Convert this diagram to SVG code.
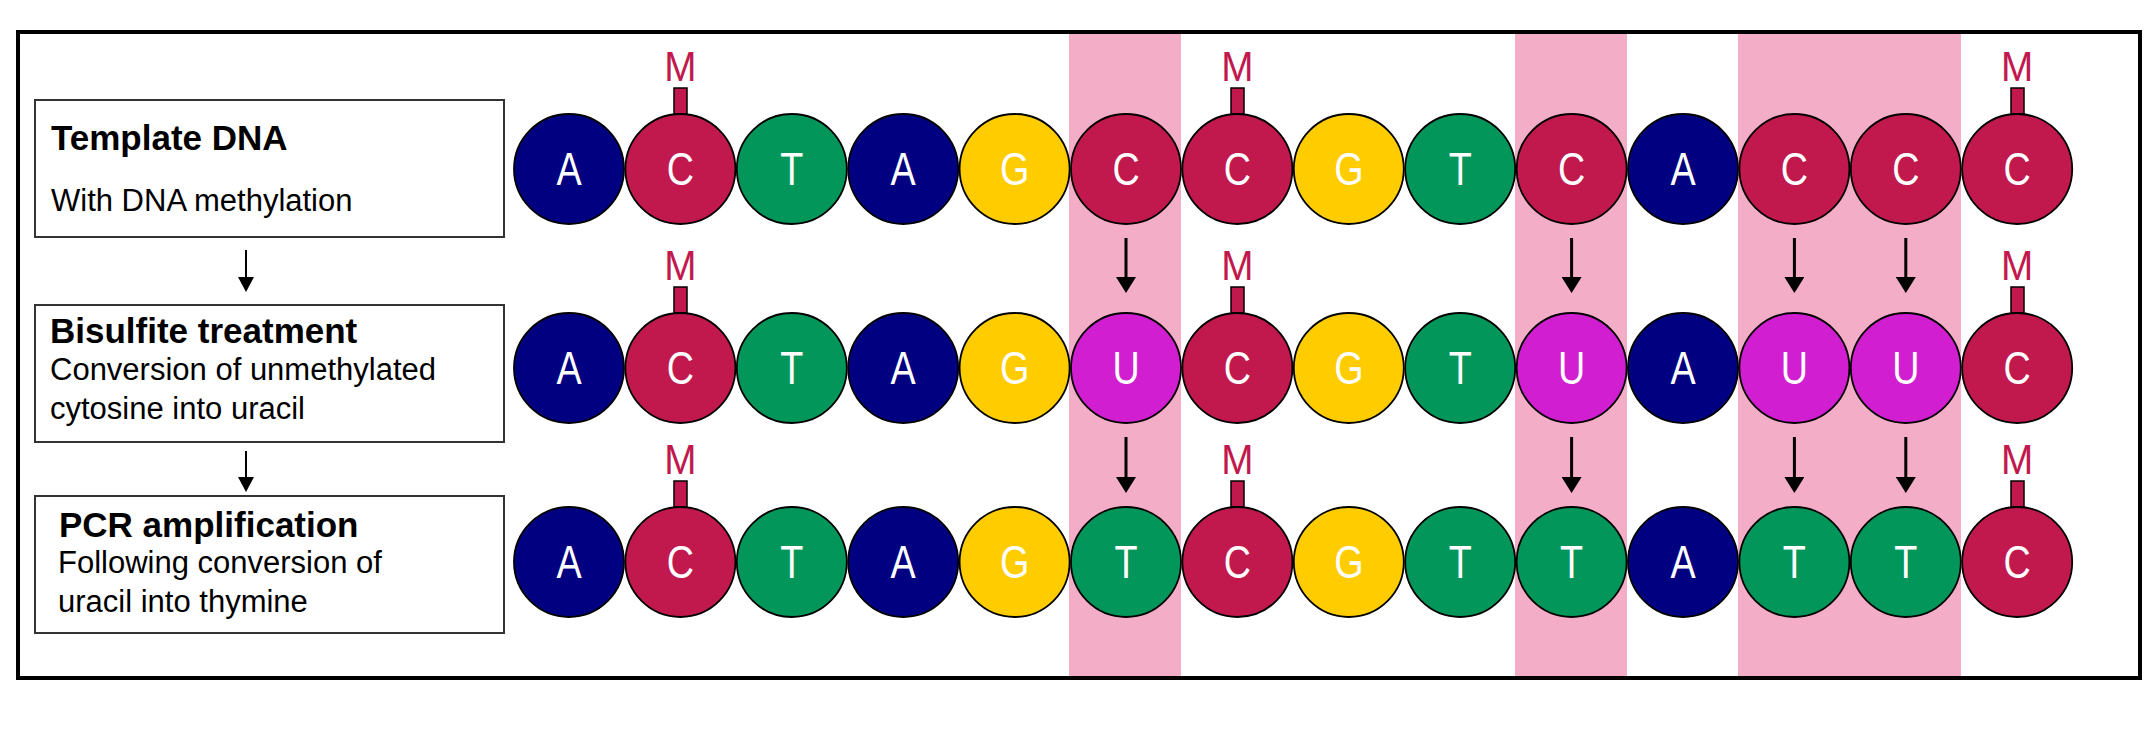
<svg xmlns="http://www.w3.org/2000/svg" width="2156" height="733" viewBox="0 0 2156 733">
<style>
.nuc{stroke:#000;stroke-width:1.8}
.A{fill:#000080}.C{fill:#C1194E}.T{fill:#03965A}.G{fill:#FFCC00}.U{fill:#D01ED0}
.lt{font-family:"Liberation Sans",Arial,sans-serif;font-size:46px;fill:#fff;text-anchor:middle;transform-box:fill-box;transform-origin:center;transform:scaleX(0.82)}
.m{font-family:"Liberation Sans",Arial,sans-serif;font-size:43px;fill:#C1194E;text-anchor:middle;transform-box:fill-box;transform-origin:center;transform:scaleX(0.9)}
.stick{fill:#C1194E;stroke:#000;stroke-width:1.5}
.box{fill:#fff;stroke:#333;stroke-width:2}
.h{font-family:"Liberation Sans",Arial,sans-serif;font-size:35px;font-weight:bold;fill:#000}
.s{font-family:"Liberation Sans",Arial,sans-serif;font-size:31px;fill:#000}
.band{fill:#F3ADC7}
.arr{stroke:#000;stroke-width:3;fill:none}
.arrs{stroke:#000;stroke-width:2;fill:none}
</style>
<defs>
<marker id="hd" markerUnits="userSpaceOnUse" markerWidth="16" markerHeight="20" refX="1" refY="10" orient="auto" viewBox="0 0 16 20"><path d="M0,0 L16,10 L0,20 Z" fill="#000"/></marker>
<marker id="hs" markerUnits="userSpaceOnUse" markerWidth="15" markerHeight="16" refX="1" refY="8" orient="auto" viewBox="0 0 15 16"><path d="M0,0 L15,8 L0,16 Z" fill="#000"/></marker>
</defs>
<rect width="2156" height="733" fill="#fff"/>
<g id="bands">
<rect class="band" x="1069" y="34" width="112" height="642"/>
<rect class="band" x="1515" y="34" width="112" height="642"/>
<rect class="band" x="1738" y="34" width="223" height="642"/>
</g>
<rect x="18" y="32" width="2122" height="646" fill="none" stroke="#000" stroke-width="4"/>
<g id="box-template">
<rect class="box" x="35" y="100" width="469" height="137"/>
<text class="h" x="51" y="150">Template DNA</text>
<text class="s" x="51" y="211">With DNA methylation</text>
</g>
<g id="box-bisulfite">
<rect class="box" x="35" y="305" width="469" height="137"/>
<text class="h" x="50" y="343">Bisulfite treatment</text>
<text class="s" x="50" y="380">Conversion of unmethylated</text>
<text class="s" x="50" y="419">cytosine into uracil</text>
</g>
<g id="box-pcr">
<rect class="box" x="35" y="496" width="469" height="137"/>
<text class="h" x="59" y="537">PCR amplification</text>
<text class="s" x="58" y="573">Following conversion of</text>
<text class="s" x="58" y="612">uracil into thymine</text>
</g>
<g id="row1">
<g id="r1n1"><circle class="nuc A" cx="569" cy="169" r="55"/><text class="lt" x="569" y="185">A</text></g>
<g id="r1n2"><rect class="stick" x="674" y="88" width="13" height="26"/><text class="m" x="680.4" y="81">M</text><circle class="nuc C" cx="680.4" cy="169" r="55"/><text class="lt" x="680.4" y="185">C</text></g>
<g id="r1n3"><circle class="nuc T" cx="791.8" cy="169" r="55"/><text class="lt" x="791.8" y="185">T</text></g>
<g id="r1n4"><circle class="nuc A" cx="903.2" cy="169" r="55"/><text class="lt" x="903.2" y="185">A</text></g>
<g id="r1n5"><circle class="nuc G" cx="1014.6" cy="169" r="55"/><text class="lt" x="1014.6" y="185">G</text></g>
<g id="r1n6"><circle class="nuc C" cx="1126" cy="169" r="55"/><text class="lt" x="1126" y="185">C</text></g>
<g id="r1n7"><rect class="stick" x="1231" y="88" width="13" height="26"/><text class="m" x="1237.4" y="81">M</text><circle class="nuc C" cx="1237.4" cy="169" r="55"/><text class="lt" x="1237.4" y="185">C</text></g>
<g id="r1n8"><circle class="nuc G" cx="1348.8" cy="169" r="55"/><text class="lt" x="1348.8" y="185">G</text></g>
<g id="r1n9"><circle class="nuc T" cx="1460.2" cy="169" r="55"/><text class="lt" x="1460.2" y="185">T</text></g>
<g id="r1n10"><circle class="nuc C" cx="1571.6" cy="169" r="55"/><text class="lt" x="1571.6" y="185">C</text></g>
<g id="r1n11"><circle class="nuc A" cx="1683" cy="169" r="55"/><text class="lt" x="1683" y="185">A</text></g>
<g id="r1n12"><circle class="nuc C" cx="1794.4" cy="169" r="55"/><text class="lt" x="1794.4" y="185">C</text></g>
<g id="r1n13"><circle class="nuc C" cx="1905.8" cy="169" r="55"/><text class="lt" x="1905.8" y="185">C</text></g>
<g id="r1n14"><rect class="stick" x="2011" y="88" width="13" height="26"/><text class="m" x="2017.2" y="81">M</text><circle class="nuc C" cx="2017.2" cy="169" r="55"/><text class="lt" x="2017.2" y="185">C</text></g>
</g>
<g id="row2">
<g id="r2n1"><circle class="nuc A" cx="569" cy="368" r="55"/><text class="lt" x="569" y="384">A</text></g>
<g id="r2n2"><rect class="stick" x="674" y="287" width="13" height="26"/><text class="m" x="680.4" y="280">M</text><circle class="nuc C" cx="680.4" cy="368" r="55"/><text class="lt" x="680.4" y="384">C</text></g>
<g id="r2n3"><circle class="nuc T" cx="791.8" cy="368" r="55"/><text class="lt" x="791.8" y="384">T</text></g>
<g id="r2n4"><circle class="nuc A" cx="903.2" cy="368" r="55"/><text class="lt" x="903.2" y="384">A</text></g>
<g id="r2n5"><circle class="nuc G" cx="1014.6" cy="368" r="55"/><text class="lt" x="1014.6" y="384">G</text></g>
<g id="r2n6"><circle class="nuc U" cx="1126" cy="368" r="55"/><text class="lt" x="1126" y="384">U</text></g>
<g id="r2n7"><rect class="stick" x="1231" y="287" width="13" height="26"/><text class="m" x="1237.4" y="280">M</text><circle class="nuc C" cx="1237.4" cy="368" r="55"/><text class="lt" x="1237.4" y="384">C</text></g>
<g id="r2n8"><circle class="nuc G" cx="1348.8" cy="368" r="55"/><text class="lt" x="1348.8" y="384">G</text></g>
<g id="r2n9"><circle class="nuc T" cx="1460.2" cy="368" r="55"/><text class="lt" x="1460.2" y="384">T</text></g>
<g id="r2n10"><circle class="nuc U" cx="1571.6" cy="368" r="55"/><text class="lt" x="1571.6" y="384">U</text></g>
<g id="r2n11"><circle class="nuc A" cx="1683" cy="368" r="55"/><text class="lt" x="1683" y="384">A</text></g>
<g id="r2n12"><circle class="nuc U" cx="1794.4" cy="368" r="55"/><text class="lt" x="1794.4" y="384">U</text></g>
<g id="r2n13"><circle class="nuc U" cx="1905.8" cy="368" r="55"/><text class="lt" x="1905.8" y="384">U</text></g>
<g id="r2n14"><rect class="stick" x="2011" y="287" width="13" height="26"/><text class="m" x="2017.2" y="280">M</text><circle class="nuc C" cx="2017.2" cy="368" r="55"/><text class="lt" x="2017.2" y="384">C</text></g>
</g>
<g id="row3">
<g id="r3n1"><circle class="nuc A" cx="569" cy="562" r="55"/><text class="lt" x="569" y="578">A</text></g>
<g id="r3n2"><rect class="stick" x="674" y="481" width="13" height="26"/><text class="m" x="680.4" y="474">M</text><circle class="nuc C" cx="680.4" cy="562" r="55"/><text class="lt" x="680.4" y="578">C</text></g>
<g id="r3n3"><circle class="nuc T" cx="791.8" cy="562" r="55"/><text class="lt" x="791.8" y="578">T</text></g>
<g id="r3n4"><circle class="nuc A" cx="903.2" cy="562" r="55"/><text class="lt" x="903.2" y="578">A</text></g>
<g id="r3n5"><circle class="nuc G" cx="1014.6" cy="562" r="55"/><text class="lt" x="1014.6" y="578">G</text></g>
<g id="r3n6"><circle class="nuc T" cx="1126" cy="562" r="55"/><text class="lt" x="1126" y="578">T</text></g>
<g id="r3n7"><rect class="stick" x="1231" y="481" width="13" height="26"/><text class="m" x="1237.4" y="474">M</text><circle class="nuc C" cx="1237.4" cy="562" r="55"/><text class="lt" x="1237.4" y="578">C</text></g>
<g id="r3n8"><circle class="nuc G" cx="1348.8" cy="562" r="55"/><text class="lt" x="1348.8" y="578">G</text></g>
<g id="r3n9"><circle class="nuc T" cx="1460.2" cy="562" r="55"/><text class="lt" x="1460.2" y="578">T</text></g>
<g id="r3n10"><circle class="nuc T" cx="1571.6" cy="562" r="55"/><text class="lt" x="1571.6" y="578">T</text></g>
<g id="r3n11"><circle class="nuc A" cx="1683" cy="562" r="55"/><text class="lt" x="1683" y="578">A</text></g>
<g id="r3n12"><circle class="nuc T" cx="1794.4" cy="562" r="55"/><text class="lt" x="1794.4" y="578">T</text></g>
<g id="r3n13"><circle class="nuc T" cx="1905.8" cy="562" r="55"/><text class="lt" x="1905.8" y="578">T</text></g>
<g id="r3n14"><rect class="stick" x="2011" y="481" width="13" height="26"/><text class="m" x="2017.2" y="474">M</text><circle class="nuc C" cx="2017.2" cy="562" r="55"/><text class="lt" x="2017.2" y="578">C</text></g>
</g>
<g id="connectors">
<line class="arrs" x1="246" y1="250" x2="246" y2="278" marker-end="url(#hs)"/>
<line class="arrs" x1="246" y1="451" x2="246" y2="478" marker-end="url(#hs)"/>
<line class="arr" x1="1126" y1="238" x2="1126" y2="278" marker-end="url(#hd)"/>
<line class="arr" x1="1571.6" y1="238" x2="1571.6" y2="278" marker-end="url(#hd)"/>
<line class="arr" x1="1794.4" y1="238" x2="1794.4" y2="278" marker-end="url(#hd)"/>
<line class="arr" x1="1905.8" y1="238" x2="1905.8" y2="278" marker-end="url(#hd)"/>
<line class="arr" x1="1126" y1="437" x2="1126" y2="478" marker-end="url(#hd)"/>
<line class="arr" x1="1571.6" y1="437" x2="1571.6" y2="478" marker-end="url(#hd)"/>
<line class="arr" x1="1794.4" y1="437" x2="1794.4" y2="478" marker-end="url(#hd)"/>
<line class="arr" x1="1905.8" y1="437" x2="1905.8" y2="478" marker-end="url(#hd)"/>
</g>
</svg>
